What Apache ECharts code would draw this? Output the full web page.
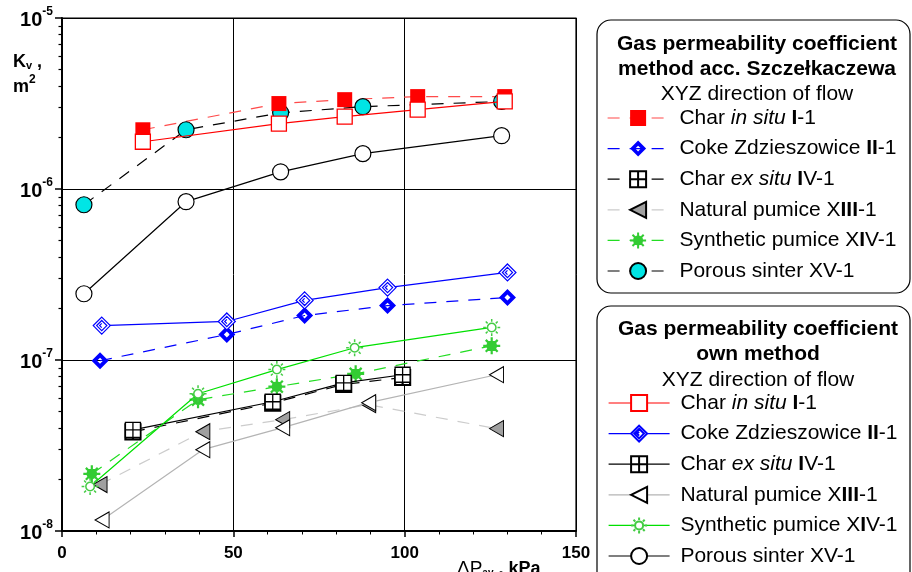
<!DOCTYPE html>
<html>
<head>
<meta charset="utf-8">
<script src="https://cdn.jsdelivr.net/npm/echarts@6/dist/echarts.min.js"></script>
<style>html,body{margin:0;padding:0;background:#fff;}#c{width:912px;height:572px;}</style>
</head>
<body>
<div id="c"></div>
<script>
// ---- data (x: ΔP, kPa ; y: Kv, m2) ----
const xI   = [23.6, 63.3, 82.5, 103.8, 129.2];
const yI_S = [2.22e-6, 3.16e-6, 3.33e-6, 3.47e-6, 3.47e-6];
const yI_O = [1.89e-6, 2.41e-6, 2.65e-6, 2.91e-6, 3.25e-6];

const xII_S = [11.1, 48.1, 70.8, 95.0, 130.0];
const yII_S = [9.9e-8, 1.41e-7, 1.82e-7, 2.08e-7, 2.32e-7];
const xII_O = [11.6, 48.1, 70.8, 95.0, 130.0];
const yII_O = [1.59e-7, 1.68e-7, 2.23e-7, 2.65e-7, 3.25e-7];

const xIV   = [20.7, 61.5, 82.2, 99.4];
const yIV_S = [3.8e-8, 5.6e-8, 7.2e-8, 7.9e-8];
const yIV_O = [3.9e-8, 5.7e-8, 7.35e-8, 8.2e-8];

const xXIII_S = [11.1, 41.1, 64.4, 89.5, 126.8];
const yXIII_S = [1.87e-8, 3.81e-8, 4.48e-8, 5.48e-8, 3.97e-8];
const xXIII_O = [11.7, 41.1, 64.4, 89.5, 126.8];
const yXIII_O = [1.16e-8, 2.99e-8, 4.02e-8, 5.63e-8, 8.2e-8];

const xXIV_S = [8.7, 39.7, 62.7, 85.7, 125.4];
const yXIV_S = [2.16e-8, 5.86e-8, 6.98e-8, 8.3e-8, 1.21e-7];
const xXIV_O = [8.2, 39.7, 62.7, 85.4, 125.4];
const yXIV_O = [1.82e-8, 6.35e-8, 8.79e-8, 1.18e-7, 1.55e-7];

const xXV   = [6.4, 36.2, 63.8, 87.8, 128.3];
const yXV_S = [8.09e-7, 2.22e-6, 2.79e-6, 3.03e-6, 3.25e-6];
const yXV_O = [2.44e-7, 8.43e-7, 1.26e-6, 1.61e-6, 2.05e-6];

const xTicks = [0, 50, 100, 150];
const yDecades = [1e-8, 1e-7, 1e-6, 1e-5];
const yMinorMult = [2, 3, 4, 5, 6, 7, 8, 9];

const labelsS = {
  S_I: ' Char {i|in situ} {b|I}-1',
  S_II: ' Coke Zdzieszowice {b|II}-1',
  S_IV: ' Char {i|ex situ} {b|I}V-1',
  S_XIII: ' Natural pumice X{b|III}-1',
  S_XIV: ' Synthetic pumice X{b|I}V-1',
  S_XV: ' Porous sinter XV-1'
};
const labelsO = {
  O_I: ' Char {i|in situ} {b|I}-1',
  O_II: ' Coke Zdzieszowice {b|II}-1',
  O_IV: ' Char {i|ex situ} {b|I}V-1',
  O_XIII: ' Natural pumice X{b|III}-1',
  O_XIV: ' Synthetic pumice X{b|I}V-1',
  O_XV: ' Porous sinter XV-1'
};

// ---- symbols ----
const SYM = {
  diamondFilled: 'path://M0,-10L10,0L0,10L-10,0Z M0,-3.5L-3.5,0L0,3.5L3.5,0Z',
  diamondOpen: 'path://M0,-10L10,0L0,10L-10,0Z M0,-6L6,0L0,6L-6,0Z M0,-2.5L-2.5,0L0,2.5',
  gridSq: 'path://M-8,-8L8,-8L8,8L-8,8Z M0,-8L0,8 M-8,0L8,0',
  triLeft: 'path://M-8,0L8,-9L8,9Z',
  starFilled: 'path://M0,-10L0,10 M-10,0L10,0 M-7,-7L7,7 M-7,7L7,-7 M-5,0A5,5 0 1 0 5,0A5,5 0 1 0 -5,0Z',
  starOpen: 'path://M0,-10L0,-6.8 M0,6.8L0,10 M-10,0L-6.8,0 M6.8,0L10,0 M-7,-7L-4.8,-4.8 M4.8,4.8L7,7 M-7,7L-4.8,4.8 M4.8,-4.8L7,-7 M-5,0A5,5 0 1 0 5,0A5,5 0 1 0 -5,0Z'
};

const zip = (xs, ys) => xs.map((x, i) => [x, ys[i]]);
const DASH = [12, 10];

function ser(name, xs, ys, o) {
  return {
    name: name, type: 'line', xAxisIndex: 0, yAxisIndex: 0,
    data: zip(xs, ys),
    symbol: o.symbol, symbolSize: o.size || 16,
    showSymbol: true, animation: false, z: o.z || 2,
    lineStyle: { color: o.line, width: o.lw || 1.2, type: o.dash ? DASH : 'solid' },
    itemStyle: { color: o.fill, borderColor: o.border, borderWidth: o.bw == null ? 1.2 : o.bw, opacity: 1 },
    emphasis: { disabled: true }
  };
}

const series = [
  ser('S_XV', xXV, yXV_S, { symbol: 'circle', size: 16, line: '#000', dash: true, fill: '#00e5e5', border: '#000', bw: 1.2 }),
  ser('S_I', xI, yI_S, { symbol: 'rect', size: 15, line: '#ff4a4a', dash: true, fill: '#ff0000', border: '#ff0000', bw: 0 }),
  ser('S_II', xII_S, yII_S, { symbol: SYM.diamondFilled, size: 17, line: '#0000ff', dash: true, fill: '#0000ff', border: '#0000ff', bw: 0 }),
  ser('S_IV', xIV, yIV_S, { symbol: SYM.gridSq, size: 15, line: '#000', dash: true, fill: '#fff', border: '#000', bw: 2.2 }),
  ser('S_XIII', xXIII_S, yXIII_S, { symbol: SYM.triLeft, size: [14, 16], line: '#cccccc', dash: true, fill: '#a0a0a0', border: '#000', bw: 1 }),
  ser('S_XIV', xXIV_S, yXIV_S, { symbol: SYM.starFilled, size: 17, line: '#22dd22', dash: true, fill: '#33cc33', border: '#33cc33', bw: 2.2 }),
  ser('O_XV', xXV, yXV_O, { symbol: 'circle', size: 16, line: '#000', fill: '#fff', border: '#000', bw: 1.2, z: 3 }),
  ser('O_I', xI, yI_O, { symbol: 'rect', size: 15, line: '#ff0000', fill: '#fff', border: '#ff0000', bw: 1.3, z: 3 }),
  ser('O_II', xII_O, yII_O, { symbol: SYM.diamondOpen, size: 17, line: '#0000ff', fill: '#fff', border: '#0000ff', bw: 1.2, z: 3 }),
  ser('O_IV', xIV, yIV_O, { symbol: SYM.gridSq, size: 15, line: '#000', fill: '#fff', border: '#000', bw: 1.3, z: 3 }),
  ser('O_XIII', xXIII_O, yXIII_O, { symbol: SYM.triLeft, size: [14, 16], line: '#b4b4b4', fill: '#fff', border: '#000', bw: 1, z: 3 }),
  ser('O_XIV', xXIV_O, yXIV_O, { symbol: SYM.starOpen, size: 17, line: '#00e000', fill: '#fff', border: '#44cc44', bw: 1.5, z: 3 })
];

const FONT = 'Liberation Sans';
const legendRich = {
  i: { fontStyle: 'italic', fontSize: 21, fontFamily: FONT, color: '#000' },
  b: { fontWeight: 'bold', fontSize: 21, fontFamily: FONT, color: '#000' }
};
function legend(names, labels, left, top) {
  return {
    orient: 'vertical', left: left, top: top, padding: 0,
    itemWidth: 61, itemHeight: 20, itemGap: 9.6,
    selectedMode: false, data: names,
    lineStyle: { width: 1.2 },
    formatter: n => labels[n],
    textStyle: { fontSize: 21, lineHeight: 21, fontFamily: FONT, color: '#000', rich: legendRich }
  };
}

const yMinor = [];
yDecades.slice(0, 3).forEach(d => yMinorMult.forEach(m => yMinor.push(d * m)));

const chart = echarts.init(document.getElementById('c'), null, { renderer: 'canvas' });
chart.setOption({
  animation: false,
  backgroundColor: '#fff',
  grid: { left: 62, top: 18, right: 336, bottom: 41, show: true, borderColor: '#000', borderWidth: 1.2, backgroundColor: 'transparent' },
  xAxis: [{
    type: 'value', min: xTicks[0], max: xTicks[xTicks.length - 1], interval: 50,
    axisLine: { show: true, onZero: false, lineStyle: { color: '#000', width: 2 } },
    axisTick: { show: true, length: 6, lineStyle: { color: '#000', width: 1.5 } },
    minorTick: { show: true, splitNumber: 5, length: 3.5, lineStyle: { color: '#000', width: 1 } },
    splitLine: { show: true, lineStyle: { color: '#000', width: 1 } },
    axisLabel: { margin: 14, fontSize: 17, fontWeight: 'bold', fontFamily: FONT, color: '#000' }
  }],
  yAxis: [{
    type: 'log', logBase: 10, min: yDecades[0], max: yDecades[yDecades.length - 1],
    axisLine: { show: true, lineStyle: { color: '#000', width: 2 } },
    axisTick: { show: true, length: 7, lineStyle: { color: '#000', width: 1.5 } },
    splitLine: { show: true, lineStyle: { color: '#000', width: 1.2 } },
    axisLabel: {
      margin: 9,
      formatter: v => '{n|10}{s|' + Math.round(Math.log10(v)) + '}',
      rich: {
        n: { fontSize: 20, fontWeight: 'bold', fontFamily: FONT, color: '#000', lineHeight: 24, verticalAlign: 'bottom' },
        s: { fontSize: 12, fontWeight: 'bold', fontFamily: FONT, color: '#000', verticalAlign: 'top' }
      }
    }
  }, {
    type: 'log', logBase: 10, min: yDecades[0], max: yDecades[yDecades.length - 1], position: 'left',
    axisLine: { show: false },
    axisTick: { show: true, length: 3.5, customValues: yMinor, lineStyle: { color: '#000', width: 1.2 } },
    axisLabel: { show: false },
    splitLine: { show: false }
  }],
  legend: [
    legend(['S_I', 'S_II', 'S_IV', 'S_XIII', 'S_XIV', 'S_XV'], labelsS, 607, 107.5),
    legend(['O_I', 'O_II', 'O_IV', 'O_XIII', 'O_XIV', 'O_XV'], labelsO, 608, 392.5)
  ],
  graphic: [
    { type: 'rect', shape: { x: 597, y: 20, width: 313, height: 273, r: 14 }, style: { fill: 'none', stroke: '#000', lineWidth: 1.2 }, silent: true },
    { type: 'rect', shape: { x: 597, y: 306, width: 313, height: 290, r: 14 }, style: { fill: 'none', stroke: '#000', lineWidth: 1.2 }, silent: true },
    { type: 'text', x: 757, y: 44, style: { text: 'Gas permeability coefficient', font: 'bold 21px "Liberation Sans"', fill: '#000', align: 'center', verticalAlign: 'middle' } },
    { type: 'text', x: 757, y: 69, style: { text: 'method acc. Szczełkaczewa', font: 'bold 21px "Liberation Sans"', fill: '#000', align: 'center', verticalAlign: 'middle' } },
    { type: 'text', x: 757, y: 94, style: { text: 'XYZ direction of flow', font: '21px "Liberation Sans"', fill: '#000', align: 'center', verticalAlign: 'middle' } },
    { type: 'text', x: 758, y: 329, style: { text: 'Gas permeability coefficient', font: 'bold 21px "Liberation Sans"', fill: '#000', align: 'center', verticalAlign: 'middle' } },
    { type: 'text', x: 758, y: 354, style: { text: 'own method', font: 'bold 21px "Liberation Sans"', fill: '#000', align: 'center', verticalAlign: 'middle' } },
    { type: 'text', x: 758, y: 380, style: { text: 'XYZ direction of flow', font: '21px "Liberation Sans"', fill: '#000', align: 'center', verticalAlign: 'middle' } },
    { type: 'text', x: 13, y: 46, style: {
        text: '{a|K}{sub|v}{a| ,}\n{a|m}{sup|2}',
        rich: {
          a: { font: 'bold 18px "Liberation Sans"', fill: '#000', lineHeight: 25, verticalAlign: 'bottom' },
          sub: { font: 'bold 11px "Liberation Sans"', fill: '#000', verticalAlign: 'bottom' },
          sup: { font: 'bold 12px "Liberation Sans"', fill: '#000', verticalAlign: 'top', padding: [3, 0, 0, 0] }
        } } },
    { type: 'text', x: 457, y: 556, style: {
        text: '{d|ΔP}{sub|av}{a| , kPa}',
        rich: {
          d: { font: '19px "Liberation Sans"', fill: '#000', lineHeight: 22, verticalAlign: 'bottom' },
          a: { font: 'bold 18px "Liberation Sans"', fill: '#000', lineHeight: 22, verticalAlign: 'bottom' },
          sub: { font: 'bold 10px "Liberation Sans"', fill: '#000', verticalAlign: 'bottom' }
        } } }
  ],
  series: series
});
</script>
</body>
</html>
